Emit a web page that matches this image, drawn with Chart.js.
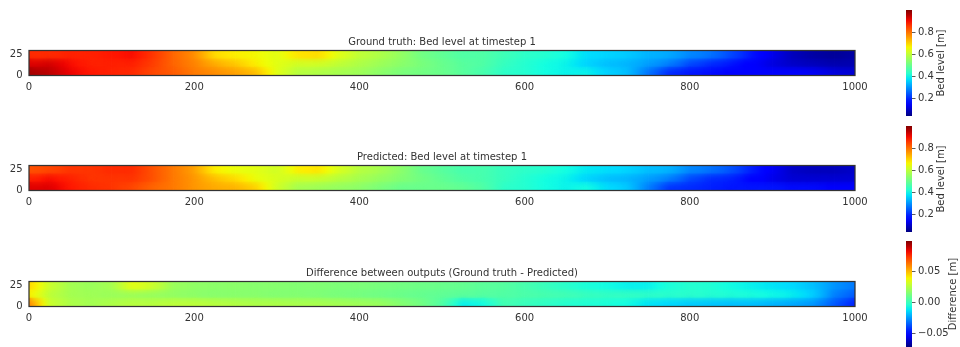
<!DOCTYPE html>
<html lang="en">
<head>
<meta charset="UTF-8" />
<title>Bed level at timestep 1</title>
<script src="https://cdn.jsdelivr.net/npm/chart.js"></script>
<style>
  body {
    margin: 0;
    background: #fff;
    width: 960px;
    height: 347px;
    overflow: hidden;
    position: relative;
  }
  canvas {
    position: absolute;
    display: block;
  }
</style>
</head>
<body>
  <canvas id="map0" width="880" height="70" style="left:0;top:30px"></canvas>
  <canvas id="map1" width="880" height="70" style="left:0;top:145px"></canvas>
  <canvas id="map2" width="880" height="70" style="left:0;top:261px"></canvas>
  <canvas id="cb0" width="60" height="106" style="left:900px;top:10px"></canvas>
  <canvas id="cb1" width="60" height="106" style="left:900px;top:126px"></canvas>
  <canvas id="cb2" width="60" height="106" style="left:900px;top:241px"></canvas>

<script>
// sample positions along the channel (x) and row bands (y)
const xPos = [0,25,50,75,100,125,150,175,200,225,250,275,300,325,350,375,400,425,450,475,500,
              525,550,575,600,625,650,675,700,725,750,775,800,825,850,875,900,925,950,975,1000];
const yEdges = [0, 10, 20, 30];
const xTicks = [0, 200, 400, 600, 800, 1000];
const yTicks = [0, 25];

// ground truth bed level [m]
const truthBottom = [0.97,0.95,0.91,0.89,0.88,0.87,0.84,0.82,0.79,0.77,0.75,0.72,0.64,0.59,0.58,0.57,0.56,0.54,0.52,0.51,0.50,
                     0.48,0.46,0.43,0.42,0.40,0.39,0.39,0.36,0.34,0.27,0.20,0.18,0.17,0.16,0.16,0.16,0.15,0.14,0.12,0.11];
const truthMid    = [0.92,0.93,0.90,0.88,0.88,0.88,0.85,0.81,0.78,0.74,0.71,0.67,0.64,0.62,0.62,0.60,0.58,0.56,0.54,0.52,0.50,
                     0.48,0.47,0.44,0.42,0.40,0.39,0.36,0.34,0.33,0.31,0.28,0.23,0.20,0.18,0.15,0.12,0.10,0.09,0.08,0.08];
const truthTop    = [0.87,0.87,0.88,0.88,0.89,0.90,0.86,0.81,0.77,0.69,0.67,0.66,0.64,0.68,0.69,0.64,0.60,0.58,0.55,0.51,0.49,
                     0.47,0.47,0.45,0.43,0.42,0.40,0.37,0.36,0.35,0.33,0.32,0.29,0.27,0.23,0.18,0.13,0.09,0.07,0.06,0.07];

// predicted bed level [m]
const predBottom = [0.92,0.92,0.89,0.87,0.86,0.84,0.81,0.79,0.76,0.74,0.73,0.70,0.62,0.57,0.56,0.55,0.54,0.52,0.50,0.50,0.50,
                    0.49,0.47,0.43,0.42,0.40,0.39,0.40,0.37,0.35,0.28,0.21,0.20,0.19,0.18,0.18,0.18,0.17,0.17,0.16,0.16];
const predMid    = [0.88,0.90,0.88,0.86,0.86,0.86,0.83,0.79,0.76,0.72,0.69,0.65,0.63,0.61,0.61,0.59,0.57,0.55,0.53,0.51,0.49,
                    0.47,0.46,0.44,0.42,0.40,0.39,0.36,0.34,0.33,0.31,0.28,0.23,0.20,0.19,0.16,0.13,0.11,0.11,0.11,0.11];
const predTop    = [0.83,0.84,0.86,0.86,0.87,0.87,0.83,0.79,0.75,0.67,0.65,0.64,0.62,0.67,0.68,0.63,0.59,0.57,0.54,0.50,0.48,
                    0.46,0.46,0.44,0.43,0.42,0.40,0.38,0.37,0.36,0.34,0.33,0.29,0.27,0.24,0.19,0.14,0.10,0.09,0.09,0.10];

// difference (ground truth - predicted) [m]
const diffBottom = [0.060,0.030,0.024,0.022,0.024,0.026,0.026,0.027,0.027,0.026,0.025,0.024,0.024,0.023,0.023,0.022,0.021,0.020,0.016,0.012,0.005,
                    -0.010,-0.008,0.002,0.000,-0.002,-0.004,-0.005,-0.006,-0.008,-0.012,-0.014,-0.016,-0.017,-0.018,-0.018,-0.020,-0.022,-0.025,-0.035,-0.045];
const diffMid    = [0.040,0.027,0.022,0.021,0.020,0.020,0.019,0.018,0.017,0.016,0.016,0.016,0.015,0.015,0.014,0.013,0.012,0.011,0.010,0.009,0.008,
                    0.007,0.006,0.005,0.004,0.003,0.002,0.000,-0.001,-0.001,-0.002,-0.003,-0.003,-0.004,-0.005,-0.006,-0.008,-0.010,-0.015,-0.028,-0.035];
const diffTop    = [0.045,0.030,0.022,0.020,0.022,0.035,0.030,0.020,0.018,0.017,0.017,0.016,0.016,0.015,0.015,0.014,0.014,0.013,0.012,0.011,0.010,
                    0.009,0.007,0.006,0.003,0.000,-0.003,-0.006,-0.008,-0.010,-0.010,-0.006,-0.004,-0.005,-0.008,-0.010,-0.012,-0.014,-0.018,-0.025,-0.030];

// colour limits and colourbar ticks
const bedRange = [0.04, 1.0];
const diffRange = [-0.071, 0.098];
const bedTicks = [0.2, 0.4, 0.6, 0.8];
const diffTicks = [-0.05, 0, 0.05];

const TEXT = '#333';
Chart.defaults.font.family = "'DejaVu Sans', sans-serif";
Chart.defaults.font.size = 10;
Chart.defaults.color = TEXT;

// matplotlib "jet"
function jet(t) {
  t = Math.min(1, Math.max(0, t));
  const seg = pts => {
    for (let i = 1; i < pts.length; i++) {
      if (t <= pts[i][0]) {
        const [x0, y0] = pts[i - 1], [x1, y1] = pts[i];
        return y0 + (y1 - y0) * (t - x0) / (x1 - x0);
      }
    }
    return pts[pts.length - 1][1];
  };
  const r = seg([[0, 0], [0.35, 0], [0.66, 1], [0.89, 1], [1, 0.5]]);
  const g = seg([[0, 0], [0.125, 0], [0.375, 1], [0.64, 1], [0.91, 0], [1, 0]]);
  const b = seg([[0, 0.5], [0.11, 1], [0.34, 1], [0.65, 0], [1, 0]]);
  return `rgb(${Math.round(r * 255)},${Math.round(g * 255)},${Math.round(b * 255)})`;
}

// second, blurred pass of the bars so the bands blend like an interpolated image
const smoothPlugin = {
  id: 'smooth',
  afterDatasetsDraw(chart) {
    const { ctx, chartArea: a } = chart;
    ctx.save();
    ctx.beginPath();
    ctx.rect(a.left, a.top, a.right - a.left, a.bottom - a.top);
    ctx.clip();
    ctx.filter = 'blur(3px)';
    chart.getSortedVisibleDatasetMetas().forEach(meta => meta.controller.draw());
    ctx.restore();
  }
};

const framePlugin = {
  id: 'frame',
  afterDatasetsDraw(chart) {
    const { ctx, chartArea: a } = chart;
    ctx.save();
    ctx.strokeStyle = '#333';
    ctx.lineWidth = 1.25;
    ctx.strokeRect(a.left, a.top, a.right - a.left, a.bottom - a.top);
    ctx.restore();
  }
};

function heatmap(id, title, rows, range) {
  const [vmin, vmax] = range;
  const datasets = rows.map((row, r) => ({
    data: row.slice(0, -1).map((v, i) => ({ x: (xPos[i] + xPos[i + 1]) / 2, y: [yEdges[r], yEdges[r + 1]] })),
    grouped: false,
    barPercentage: 1,
    categoryPercentage: 1,
    borderWidth: 0,
    backgroundColor: c => {
      const xs = c.chart.scales.x;
      const i = c.dataIndex;
      const flat = jet(((row[i] ?? row[0]) - vmin) / (vmax - vmin));
      if (!xs || i === undefined) return flat;
      const p0 = xs.getPixelForValue(xPos[i]);
      const p1 = xs.getPixelForValue(xPos[i + 1]);
      if (!isFinite(p0) || !isFinite(p1) || p0 === p1) return flat;
      const grad = c.chart.ctx.createLinearGradient(p0, 0, p1, 0);
      for (let k = 0; k <= 4; k++) {
        const v = row[i] + (row[i + 1] - row[i]) * k / 4;
        grad.addColorStop(k / 4, jet((v - vmin) / (vmax - vmin)));
      }
      return grad;
    }
  }));

  new Chart(document.getElementById(id), {
    type: 'bar',
    data: { datasets },
    options: {
      responsive: false,
      animation: false,
      layout: { padding: { left: 0, right: 25, top: 0, bottom: 0 } },
      scales: {
        x: {
          type: 'linear',
          min: 0,
          max: 1000,
          offset: false,
          grid: { display: false, drawTicks: false },
          border: { display: false },
          ticks: { padding: 6, maxRotation: 0, callback: v => String(v) },
          afterBuildTicks: s => { s.ticks = xTicks.map(v => ({ value: v })); },
          afterFit: s => { s.height = 24.5; s.paddingLeft = 0; s.paddingRight = 0; }
        },
        y: {
          type: 'linear',
          min: 0,
          max: 30,
          grid: { display: false, drawTicks: false },
          border: { display: false },
          ticks: { padding: 6.5, callback: v => String(v) },
          afterBuildTicks: s => { s.ticks = yTicks.map(v => ({ value: v })); },
          afterFit: s => { s.width = 29; s.paddingTop = 0; s.paddingBottom = 0; }
        }
      },
      plugins: {
        legend: { display: false },
        tooltip: { enabled: false },
        title: {
          display: true,
          text: title,
          fullSize: false,
          color: TEXT,
          font: { size: 10, weight: 'normal' },
          padding: { top: 6.5, bottom: 2 }
        }
      }
    },
    plugins: [smoothPlugin, framePlugin]
  });
}

const cbLabelPlugin = {
  id: 'cbLabel',
  afterDraw(chart, args, opts) {
    const { ctx, chartArea: a } = chart;
    ctx.save();
    ctx.translate(opts.x, (a.top + a.bottom) / 2);
    ctx.rotate(-Math.PI / 2);
    ctx.font = "10px 'DejaVu Sans', sans-serif";
    ctx.fillStyle = TEXT;
    ctx.textAlign = 'center';
    ctx.textBaseline = 'middle';
    ctx.fillText(opts.text, 0, 0);
    ctx.restore();
  }
};

function colorbar(id, range, ticks, label, labelX, fmt) {
  const [vmin, vmax] = range;
  new Chart(document.getElementById(id), {
    type: 'bar',
    data: {
      labels: [''],
      datasets: [{
        data: [[vmin, vmax]],
        barPercentage: 1,
        categoryPercentage: 1,
        borderWidth: 0,
        backgroundColor: c => {
          const ys = c.chart.scales.y;
          const flat = jet(0.5);
          if (!ys) return flat;
          const p0 = ys.getPixelForValue(vmin);
          const p1 = ys.getPixelForValue(vmax);
          if (!isFinite(p0) || !isFinite(p1) || p0 === p1) return flat;
          const grad = c.chart.ctx.createLinearGradient(0, p0, 0, p1);
          for (let k = 0; k <= 20; k++) grad.addColorStop(k / 20, jet(k / 20));
          return grad;
        }
      }]
    },
    options: {
      responsive: false,
      animation: false,
      layout: { padding: { left: 6, right: 0, top: 0, bottom: 0 } },
      scales: {
        x: { display: false },
        y: {
          position: 'right',
          min: vmin,
          max: vmax,
          grid: { display: true, drawOnChartArea: false, drawTicks: true, tickLength: 3.5, color: '#333', lineWidth: 0.8 },
          border: { display: false },
          ticks: { padding: 2.5, callback: v => fmt(v) },
          afterBuildTicks: s => { s.ticks = ticks.map(v => ({ value: v })); },
          afterFit: s => { s.width = 48; s.paddingTop = 0; s.paddingBottom = 0; }
        }
      },
      plugins: {
        legend: { display: false },
        tooltip: { enabled: false },
        cbLabel: { text: label, x: labelX }
      }
    },
    plugins: [cbLabelPlugin]
  });
}

heatmap('map0', 'Ground truth: Bed level at timestep 1', [truthBottom, truthMid, truthTop], bedRange);
heatmap('map1', 'Predicted: Bed level at timestep 1', [predBottom, predMid, predTop], bedRange);
heatmap('map2', 'Difference between outputs (Ground truth - Predicted)', [diffBottom, diffMid, diffTop], diffRange);

const fmtBed = v => v.toFixed(1);
const fmtDiff = v => (v < 0 ? '\u2212' : '') + Math.abs(v).toFixed(2);
colorbar('cb0', bedRange, bedTicks, 'Bed level [m]', 41, fmtBed);
colorbar('cb1', bedRange, bedTicks, 'Bed level [m]', 41, fmtBed);
colorbar('cb2', diffRange, diffTicks, 'Difference [m]', 53.5, fmtDiff);
</script>
</body>
</html>
